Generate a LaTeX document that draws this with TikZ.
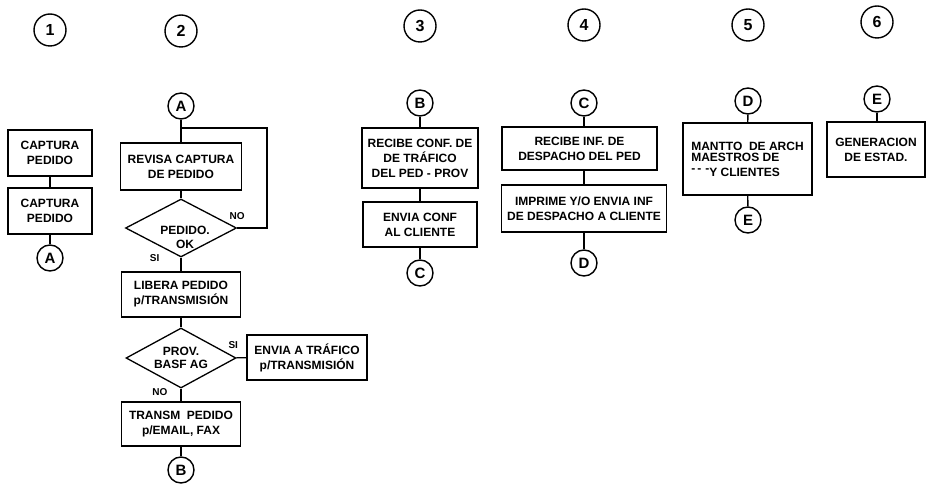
\documentclass[tikz,border=0pt]{standalone}
\usepackage{fontspec}
\setmainfont{Liberation Sans}
\usetikzlibrary{shapes.geometric}

\begin{document}
\begin{tikzpicture}[x=1pt, y=-1pt, line width=1.3pt,
    box/.style={draw, line width=1.2pt, align=center, inner sep=0pt, font=\fontsize{12}{15}\selectfont\bfseries},
    decision/.style={draw, diamond, line width=1.3pt, align=center, inner sep=0pt, shape aspect=1.9, font=\fontsize{12}{13}\selectfont\bfseries},
    stage/.style={draw, circle, line width=1.4pt, minimum size=32pt, inner sep=0pt, font=\fontsize{16}{16}\selectfont\bfseries},
    link/.style={draw, circle, line width=1.4pt, minimum size=26pt, inner sep=0pt, font=\fontsize{15}{15}\selectfont\bfseries},
    tag/.style={font=\fontsize{10}{10}\selectfont\bfseries, inner sep=1pt}]

        \useasboundingbox (0,0) rectangle (928,486);

        % Stage numbers
        \node[stage] (n1) at (50,30) {1};
        \node[stage] (n2) at (181,31) {2};
        \node[stage] (n3) at (420,26) {3};
        \node[stage] (n4) at (584,25) {4};
        \node[stage] (n5) at (748,25) {5};
        \node[stage] (n6) at (877,22) {6};

        % Stage 1
        \node[box, minimum width=84pt, minimum height=46pt] (cap1) at (50,153) {CAPTURA\\PEDIDO};
        \node[box, minimum width=84pt, minimum height=46pt] (cap2) at (50,211) {CAPTURA\\PEDIDO};
        \node[link] (A1) at (50,258) {A};
        \draw (cap1) -- (cap2);
        \draw (cap2) -- (A1);

        % Stage 2
        \node[link] (A2) at (181,106) {A};
        \node[box, minimum width=121pt, minimum height=47pt] (revisa) at (181,166.5) {REVISA CAPTURA\\DE PEDIDO};
        \node[decision, minimum width=111pt, minimum height=58pt,
              label={[name=okt, font=\fontsize{12}{14}\selectfont\bfseries, align=center, yshift=-9pt, xshift=4pt]center:PEDIDO.\\OK}] (ok) at (181,228) {};
        \node[box, minimum width=119pt, minimum height=45pt] (libera) at (181,294.5) {LIBERA PEDIDO\\p/TRANSMISIÓN};
        \node[decision, minimum width=110pt, minimum height=60pt] (prov) at (181,358) {PROV.\\BASF AG};
        \node[box, minimum width=120pt, minimum height=45pt] (envia) at (307,357.5) {ENVIA A TRÁFICO\\p/TRANSMISIÓN};
        \node[box, minimum width=119pt, minimum height=44pt] (transm) at (181,424) {TRANSM~~PEDIDO\\p/EMAIL, FAX};
        \node[link] (B2) at (181,470) {B};
        \coordinate (loop) at (267,128);
        \draw (A2) -- (revisa);
        \draw (revisa) -- (ok);
        \draw (ok.east) -| node[tag, pos=0, above=7pt] (no1) {NO} (loop) -- (loop -| A2);
        \draw (ok) -- node[tag, pos=0, left=20pt] (si1) {SI} (libera);
        \draw (libera) -- (prov);
        \draw (prov) -- node[tag, pos=0, above=8pt, xshift=-3pt] (si2) {SI} (envia);
        \draw (prov) -- node[tag, pos=0, left=12pt, yshift=-3pt] (no2) {NO} (transm);
        \draw (transm) -- (B2);

        % Stage 3
        \node[link] (B3) at (420,103) {B};
        \node[box, minimum width=116pt, minimum height=60pt] (recibe) at (420,158) {RECIBE CONF. DE\\DE TRÁFICO\\DEL PED - PROV};
        \node[box, minimum width=114pt, minimum height=45pt] (conf) at (420,224.5) {ENVIA CONF\\AL CLIENTE};
        \node[link] (C3) at (420,273) {C};
        \draw (B3) -- (recibe);
        \draw (recibe) -- (conf);
        \draw (conf) -- (C3);

        % Stage 4
        \node[link] (C4) at (584,103) {C};
        \node[box, minimum width=155pt, minimum height=43pt] (despacho) at (579.5,148.5) {RECIBE INF. DE\\DESPACHO DEL PED};
        \node[box, minimum width=165pt, minimum height=47pt] (imprime) at (584,208.5) {IMPRIME Y/O ENVIA INF\\DE DESPACHO A CLIENTE};
        \node[link] (D4) at (584,263) {D};
        \draw (C4) -- (C4 |- despacho.north);
        \draw (C4 |- despacho.south) -- (imprime);
        \draw (imprime) -- (D4);

        % Stage 5
        \node[link] (D5) at (748,101) {D};
        \node[box, minimum width=129pt, minimum height=72pt, align=left] (mantto) at (747.5,159) {MANTTO~~DE ARCH\\[-4pt]MAESTROS DE\\\raisebox{4pt}{-\,-\,\,-}Y CLIENTES};
        \node[link] (E5) at (748,220) {E};
        \draw (D5) -- (mantto);
        \draw (mantto) -- (E5);

        % Stage 6
        \node[link] (E6) at (877,99) {E};
        \node[box, minimum width=98pt, minimum height=55pt] (estad) at (876,149.5) {GENERACION\\DE ESTAD.};
        \draw (E6) -- (E6 |- estad.north);

    \end{tikzpicture}
\end{document}
